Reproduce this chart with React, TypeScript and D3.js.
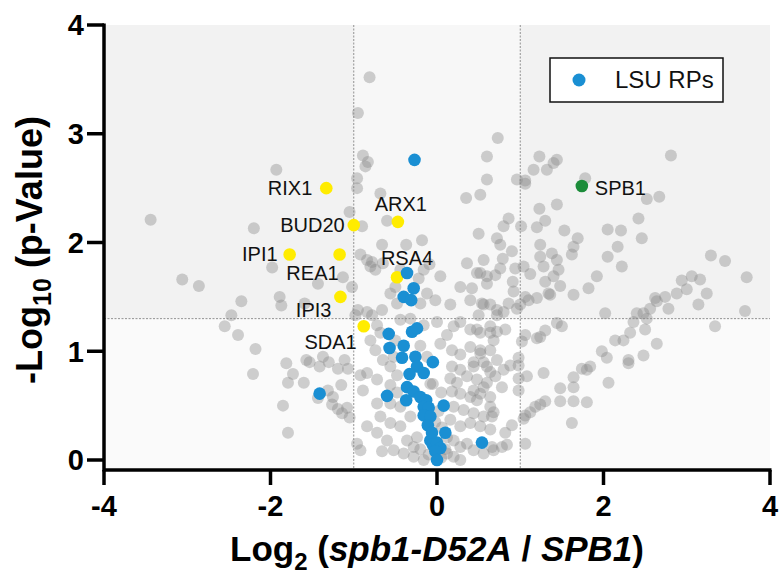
import React from "react";
import * as d3 from "d3";

// ---- data (log2 fold change, -log10 p) ----
const otherProteins: [number, number][] = [
  [-1.93,2.67],[-3.44,2.21],[-2.20,2.13],[-1.05,2.28],[-1.98,1.77],[-3.06,1.66],[-2.86,1.60],[-1.43,1.62],[-1.13,1.68],[-1.02,1.59],
  [-2.35,1.46],[-1.89,1.50],[-1.87,1.42],[-1.59,1.44],[-2.47,1.33],[-2.55,1.23],[-2.39,1.15],[-2.18,1.02],[-2.21,0.79],[-1.81,0.89],
  [-1.73,0.79],[-1.79,0.71],[-1.60,0.71],[-1.53,0.90],[-1.41,0.86],[-1.30,0.90],[-1.19,0.84],[-1.07,0.84],[-1.15,0.69],[-1.31,0.64],
  [-1.43,0.57],[-1.26,0.51],[-1.19,0.47],[-1.14,0.43],[-1.05,0.39],[-1.85,0.50],[-1.79,0.25],[-0.96,0.15],[-1.25,0.58],[-1.57,0.92],
  [-0.81,3.52],[-0.95,3.19],[-0.89,2.80],[-0.83,2.74],[-0.86,2.70],[-0.96,2.59],[-0.96,2.50],[-0.68,2.45],[-0.60,2.20],[-0.90,2.15],
  [-0.18,2.02],[-0.37,1.98],[-0.66,1.98],[-0.92,1.89],[-0.84,1.84],[-0.78,1.82],[-0.74,1.75],[-0.09,1.80],[-0.50,1.59],[-0.22,1.67],
  [0.73,2.96],[0.60,2.79],[0.60,2.58],[0.52,2.44],[0.35,2.41],[0.96,2.58],[1.06,2.57],[0.86,2.22],[0.80,2.15],[1.01,2.15],
  [0.50,2.08],[0.72,2.04],[0.90,1.92],[0.79,1.85],[0.56,1.84],[0.36,1.81],[0.76,1.76],[0.70,1.70],[0.60,1.69],[0.52,1.72],
  [0.94,1.76],[1.04,1.78],[0.91,1.64],
  [-0.80,1.78],[-0.65,1.81],[-0.44,1.75],[-0.16,1.75],[0.04,1.69],[0.48,1.72],[0.60,1.62],[0.28,1.59],[0.42,1.58],
  [-0.95,1.38],[-0.84,1.36],[-0.78,1.33],[-0.66,1.38],[-0.56,1.53],[-0.48,1.44],[-0.20,1.44],[-0.12,1.53],[-0.02,1.47],[0.16,1.43],
  [0.40,1.47],[0.54,1.44],[0.64,1.43],[0.72,1.38],[-0.98,1.33],[-0.72,1.24],[-0.68,1.17],[-0.80,1.10],[-0.44,1.29],[-0.32,1.30],
  [-0.16,1.24],[0.00,1.27],[0.20,1.23],[0.28,1.27],[0.40,1.20],[0.52,1.17],[0.64,1.23],[0.72,1.18],[0.12,1.15],[0.04,1.07],
  [-0.74,1.01],[-0.65,0.92],[-0.52,0.95],[-0.56,0.86],[0.18,1.01],[0.28,0.97],[0.40,1.04],[0.52,0.98],[0.64,1.01],[0.18,0.86],
  [0.28,0.83],[0.44,0.86],[0.60,0.86],[0.72,0.92],[-1.37,0.95],[-1.11,0.92],[-0.92,0.78],[-0.84,0.80],[-0.72,0.74],[-0.56,0.69],
  [-0.89,0.64],[-0.72,0.52],[-0.56,0.52],[-0.44,0.49],[0.16,0.75],[0.24,0.71],[0.36,0.77],[0.48,0.74],[0.60,0.71],[0.70,0.77],
  [0.18,0.63],[0.28,0.61],[0.40,0.58],[0.52,0.61],[0.64,0.58],[0.20,0.49],[0.32,0.46],[0.44,0.43],[0.56,0.40],[0.68,0.44],
  [0.16,0.37],[0.28,0.31],[0.40,0.34],[0.52,0.31],[0.64,0.28],[-0.68,0.40],[-0.56,0.34],[-0.44,0.31],[-0.32,0.40],[-0.84,0.31],
  [-0.72,0.25],[-0.60,0.18],[-0.36,0.18],[-0.24,0.21],[-0.28,0.12],[0.12,0.21],[0.20,0.18],[0.28,0.12],[0.36,0.15],[0.44,0.09],
  [0.56,0.06],[0.68,0.09],[0.12,0.06],[0.20,0.03],[0.28,0.00],[-0.52,0.09],[-0.40,0.06],[-0.28,0.03],[-0.16,0.00],[-0.66,0.08],
  [-0.92,0.09],[-1.08,0.48],
  [-0.05,0.70],[0.05,0.62],[-0.02,0.35],[0.06,0.30],[0.02,0.45],[-0.20,0.10],[0.10,0.10],[-0.10,0.05],[0.05,0.02],
  [-0.48,0.78],[-0.50,1.10],[-0.20,1.05],[-0.12,0.95],[-0.08,0.70],[-0.48,0.62],
  [1.23,2.79],[1.16,2.67],[1.32,2.67],[1.40,2.73],[1.44,2.76],[1.06,2.54],[1.78,2.59],[2.81,2.80],[2.52,2.40],[2.67,2.42],
  [1.23,2.31],[1.44,2.35],[1.20,2.14],[1.30,2.20],[1.53,2.11],[1.69,2.04],[1.64,1.96],[1.62,1.89],[2.42,2.22],[2.46,2.04],
  [2.05,2.12],[2.21,2.11],[2.17,1.96],[2.05,1.87],[2.22,1.78],[1.24,1.98],[1.24,1.87],[1.38,1.90],[1.28,1.78],[1.44,1.84],
  [1.46,1.75],[1.40,1.69],[1.48,1.60],[1.30,1.64],[1.12,1.71],[0.76,1.98],[1.92,1.69],[1.82,1.58],[1.64,1.52],[1.34,1.53],
  [3.29,1.88],[3.46,1.83],[3.72,1.68],[3.06,1.69],[3.16,1.66],[2.94,1.65],[3.00,1.57],[2.88,1.53],[3.24,1.53],[2.74,1.50],
  [2.62,1.49],[0.92,1.55],
  [0.56,1.43],[0.50,1.33],[0.72,1.33],[0.80,1.36],[0.86,1.44],[0.96,1.39],[1.00,1.43],[1.06,1.50],[1.10,1.47],[1.20,1.49],
  [1.36,1.52],[2.02,1.35],[2.40,1.35],[2.48,1.35],[2.52,1.30],[2.56,1.39],[2.64,1.46],[2.78,1.39],[3.14,1.43],[3.70,1.37],
  [3.34,1.23],[1.44,1.26],[1.50,1.23],[1.30,1.19],[1.06,1.15],[1.20,1.12],[1.24,1.13],[0.82,1.20],[1.02,1.09],[2.36,1.27],
  [2.32,1.17],[2.24,1.10],[2.14,1.10],[2.50,1.20],[2.64,1.07],[2.48,0.96],[2.30,0.92],[2.30,0.89],[1.98,1.00],[2.04,0.94],
  [1.84,0.86],[1.80,0.83],[1.74,0.84],[1.64,0.76],[1.64,0.67],[1.48,0.66],[1.48,0.54],[1.64,0.54],[1.80,0.53],[2.06,0.71],
  [1.62,0.34],[1.28,0.80],[1.30,0.54],[1.24,0.51],[1.18,0.49],[1.12,0.44],[1.06,0.41],[1.04,0.38],[1.06,0.15],[0.90,0.32],
  [0.82,0.25],[0.84,0.14],[0.66,0.12],[0.78,0.12],[0.98,0.64],[0.98,0.75],[1.08,0.77],[0.98,0.94],[0.98,0.87],[0.88,0.87],
  [0.80,0.83],[0.78,0.67],[0.56,0.67],[0.44,0.64],[0.48,0.55],[0.64,0.49],[0.66,0.40],[0.48,1.20],[0.64,1.17],[0.68,1.10],
  [0.52,1.01],[0.56,0.90],[0.44,0.90],[0.64,0.81],
];

const lsuRPs: [number, number][] = [
  [-0.27,2.76],[-0.36,1.72],[-0.28,1.58],[-0.40,1.50],[-0.31,1.47],[-0.58,1.16],[-0.30,1.18],[-0.24,1.21],[-0.57,1.03],[-0.40,1.05],
  [-0.42,0.94],[-0.26,0.95],[-0.05,0.90],[-0.24,0.86],[-0.16,0.80],[-0.33,0.79],[-0.36,0.67],[-0.60,0.59],[-1.41,0.61],[-0.28,0.63],
  [-0.37,0.55],[-0.20,0.58],[-0.13,0.55],[-0.16,0.49],[-0.10,0.48],[0.08,0.50],[-0.16,0.41],[-0.08,0.40],[-0.11,0.32],[0.10,0.25],
  [-0.08,0.18],[-0.05,0.14],[0.00,0.16],[0.04,0.11],[-0.02,0.08],[0.00,0.00],[0.54,0.16],[-0.06,0.25],
];

const factorNames = ["RIX1", "BUD20", "IPI1", "REA1", "IPI3", "SDA1", "ARX1", "RSA4"];
const factorX = [-1.33, -1.00, -1.77, -1.17, -1.16, -0.88, -0.47, -0.48];
const factorY = [2.50, 2.16, 1.89, 1.89, 1.50, 1.23, 2.19, 1.68];

const baitName = "SPB1";
const baitX = 1.74;
const baitY = 2.52;

const xTicks = [-4, -2, 0, 2, 4];
const yTicks = [0, 1, 2, 3, 4];
const foldCut = 1;
const pCut = 1.3;

// label placement offsets (px) – styling only
const labelPos: Record<string, { dx: number; dy: number; anchor: string }> = {
  RIX1: { dx: -14, dy: 0, anchor: "end" },
  BUD20: { dx: -9, dy: 0, anchor: "end" },
  IPI1: { dx: -12, dy: 0, anchor: "end" },
  REA1: { dx: -1, dy: 19, anchor: "end" },
  IPI3: { dx: -9, dy: 13, anchor: "end" },
  SDA1: { dx: -7, dy: 16, anchor: "end" },
  ARX1: { dx: 3, dy: -18, anchor: "middle" },
  RSA4: { dx: 10, dy: -19, anchor: "middle" },
};

export default function App() {
  const W = 782, H = 578;
  const left = 104, right = 770, top = 25, axisY = 470;
  const x = d3.scaleLinear().domain([-4, 4]).range([left, right]);
  const y = d3.scaleLinear().domain([0, 4]).range([460, top]);
  const font = "'Liberation Sans', Arial, Helvetica, sans-serif";

  return (
    <svg width={W} height={H} style={{ position: "absolute", left: 0, top: 0, background: "#fff" }} fontFamily={font}>
      {/* shading */}
      <rect x={x(-4)} y={top} width={x(-foldCut) - x(-4)} height={axisY - top} fill="#000" fillOpacity={0.02} />
      <rect x={x(foldCut)} y={top} width={x(4) - x(foldCut)} height={axisY - top} fill="#000" fillOpacity={0.02} />
      <rect x={left} y={top} width={right - left} height={y(pCut) - top} fill="#000" fillOpacity={0.03} />
      {/* threshold lines */}
      <line x1={x(-foldCut)} x2={x(-foldCut)} y1={top} y2={axisY} stroke="#777" strokeWidth={0.8} strokeDasharray="2,1.5" />
      <line x1={x(foldCut)} x2={x(foldCut)} y1={top} y2={axisY} stroke="#777" strokeWidth={0.8} strokeDasharray="2,1.5" />
      <line x1={left} x2={right} y1={y(pCut)} y2={y(pCut)} stroke="#777" strokeWidth={0.8} strokeDasharray="2,1.5" />

      {/* points */}
      {otherProteins.map((d, i) => (
        <circle key={"g" + i} cx={x(d[0])} cy={y(d[1])} r={6} fill="#8a8a8a" fillOpacity={0.4} />
      ))}
      {factorNames.map((n, i) => (
        <circle key={"f" + i} cx={x(factorX[i])} cy={y(factorY[i])} r={6.3} fill="#ffec00" />
      ))}
      {lsuRPs.map((d, i) => (
        <circle key={"b" + i} cx={x(d[0])} cy={y(d[1])} r={6.3} fill="#1a8fd3" />
      ))}
      <circle cx={x(baitX)} cy={y(baitY)} r={6.3} fill="#1c8c3a" />

      {/* labels */}
      {factorNames.map((n, i) => {
        const p = labelPos[n];
        return (
          <text key={"l" + i} x={x(factorX[i]) + p.dx} y={y(factorY[i]) + p.dy} dy="0.35em"
            textAnchor={p.anchor} fontSize={20} fill="#111">{n}</text>
        );
      })}
      <text x={x(baitX) + 13} y={y(baitY) + 2} dy="0.35em" fontSize={20} fill="#111">{baitName}</text>

      {/* legend */}
      <rect x={550} y={58} width={173} height={44} fill="#fff" stroke="#111" strokeWidth={1.5} />
      <circle cx={579} cy={80} r={6.5} fill="#1a8fd3" />
      <text x={615} y={80} dy="0.35em" fontSize={24} fill="#111">LSU RPs</text>

      {/* axes */}
      <line x1={left} x2={left} y1={top - 1.5} y2={axisY + 1.5} stroke="#000" strokeWidth={3.5} />
      <line x1={left} x2={right + 1.5} y1={axisY} y2={axisY} stroke="#000" strokeWidth={3.5} />
      {yTicks.map(t => (
        <g key={"yt" + t}>
          <line x1={left - 17} x2={left} y1={y(t)} y2={y(t)} stroke="#000" strokeWidth={3.5} />
          <text x={84} y={y(t)} dy="0.36em" textAnchor="end" fontSize={29} fontWeight="bold">{t}</text>
        </g>
      ))}
      {xTicks.map(t => (
        <g key={"xt" + t}>
          <line x1={x(t)} x2={x(t)} y1={axisY} y2={axisY + 15} stroke="#000" strokeWidth={3.5} />
          <text x={x(t)} y={516} textAnchor="middle" fontSize={29} fontWeight="bold">{t}</text>
        </g>
      ))}

      {/* axis titles */}
      <text x={437} y={561} textAnchor="middle" fontSize={35} fontWeight="bold">
        <tspan>Log</tspan>
        <tspan fontSize={24} dy={9}>2</tspan>
        <tspan dy={-9}> (</tspan>
        <tspan fontStyle="italic">spb1-D52A</tspan>
        <tspan> / </tspan>
        <tspan fontStyle="italic">SPB1</tspan>
        <tspan>)</tspan>
      </text>
      <text transform={`translate(42,250) rotate(-90)`} textAnchor="middle" fontSize={36} fontWeight="bold">
        <tspan>-Log</tspan>
        <tspan fontSize={25} dy={9}>10</tspan>
        <tspan dy={-9}> (p-Value)</tspan>
      </text>
    </svg>
  );
}
